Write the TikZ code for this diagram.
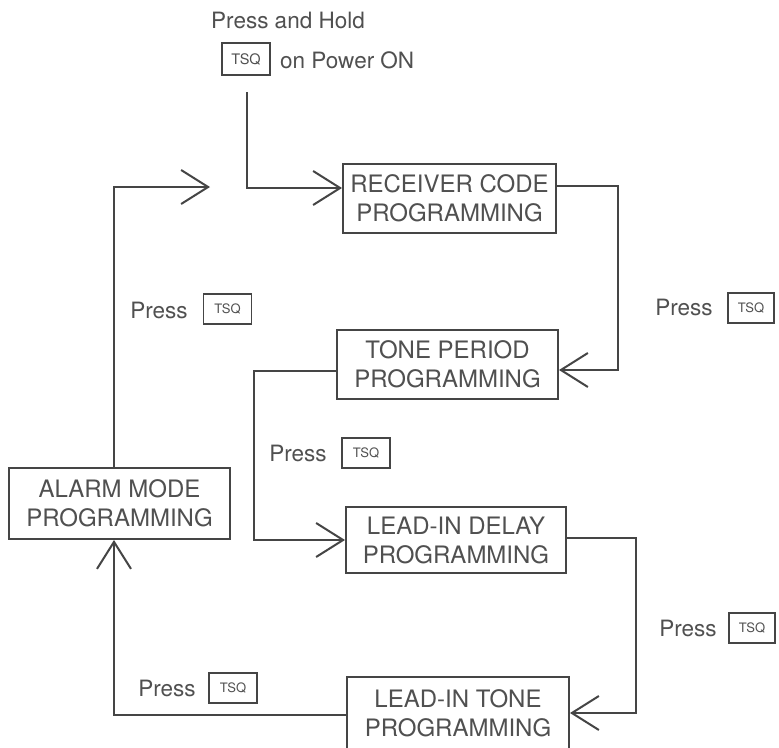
\documentclass[tikz,border=0pt]{standalone}
\usepackage{fontspec}
\setmainfont{TeX Gyre Heros}
\usetikzlibrary{arrows.meta}
\definecolor{ink}{HTML}{454545}
\definecolor{txt}{HTML}{505050}
\begin{document}
\begin{tikzpicture}[x=1pt,y=-1pt,
  box/.style={draw=ink,line width=2pt,align=center,inner sep=0pt,text=txt,
    font=\fontsize{24}{29}\selectfont},
  lbl/.style={text=txt,inner sep=0pt,font=\fontsize{22.5}{26}\selectfont},
  tsq/.style={draw=ink,line width=1.6pt,text=txt,inner sep=0pt,
    minimum width=48pt,minimum height=30pt,font=\fontsize{13}{15}\selectfont},
  arr/.style={draw=ink,line width=2pt,-{Straight Barb[length=27pt,width=34pt]}},
  conn/.style={draw=ink,line width=2pt}]
\useasboundingbox (0,0) rectangle (779,747);
\clip (0,0) rectangle (779,747);
\fill[white] (0,0) rectangle (779,747);

% boxes
\node[box,minimum width=213pt,minimum height=69pt] (rc) at (449.5,198.5) {RECEIVER CODE\\PROGRAMMING};
\node[box,minimum width=221pt,minimum height=69pt] (tp) at (447.5,364.5) {TONE PERIOD\\PROGRAMMING};
\node[box,minimum width=220pt,minimum height=66pt] (ld) at (456,540) {LEAD-IN DELAY\\PROGRAMMING};
\node[box,minimum width=222pt,minimum height=73pt] (lt) at (458,713.5) {LEAD-IN TONE\\PROGRAMMING};
\node[box,minimum width=221pt,minimum height=71pt] (am) at (119.5,503.5) {ALARM MODE\\PROGRAMMING};

% top text
\node[lbl] (hold) at (288,20) {Press and Hold};
\node[tsq,minimum width=48pt,minimum height=32pt,font=\fontsize{14.5}{16}\selectfont] (tsq0) at (246,59) {TSQ};
\node[lbl,anchor=west] (pon) at (280,60) {on Power ON};
\coordinate (start) at (247,92);
\coordinate (loopend) at (210,187);

% press labels
\node[lbl] (p1) at (159,310) {Press};
\node[tsq] (t1) at (227.5,309) {TSQ};
\node[lbl] (p2) at (298,453) {Press};
\node[tsq] (t2) at (366,453) {TSQ};
\node[lbl] (p3) at (684,307) {Press};
\node[tsq,minimum width=46pt] (t3) at (751,308) {TSQ};
\node[lbl] (p4) at (688,628) {Press};
\node[tsq,minimum width=46pt] (t4) at (752,628) {TSQ};
\node[lbl] (p5) at (167,688) {Press};
\node[tsq] (t5) at (233,688) {TSQ};

% connectors
\draw[arr] (start) |- ([yshift=10.5pt]rc.west);
\draw[arr] ([xshift=-5.5pt]am.north) |- (loopend);
\draw[arr] ([yshift=12.5pt]rc.east) -- ++(61,0) |- ([yshift=-5.5pt]tp.east);
\draw[arr] ([yshift=-6.5pt]tp.west) -- ++(-82,0) |- (ld.west);
\draw[arr] ([yshift=2pt]ld.east) -- ++(69,0) |- ([yshift=0.5pt]lt.east);
\draw[arr] ([yshift=-1.5pt]lt.west) -| ([xshift=-5.5pt]am.south);
\end{tikzpicture}
\end{document}
